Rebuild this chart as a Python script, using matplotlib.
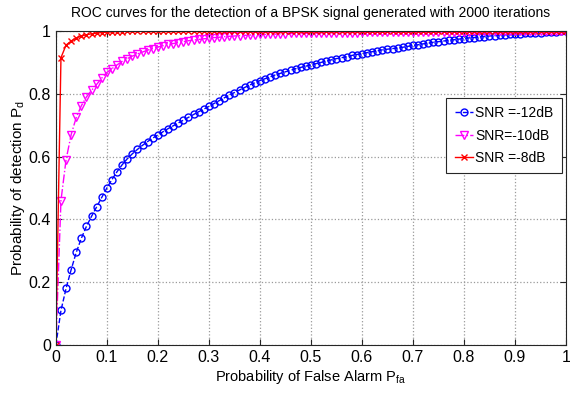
import numpy as np
import matplotlib
matplotlib.use("Agg")
import matplotlib.pyplot as plt

plt.rcParams['font.family'] = ['Liberation Sans', 'DejaVu Sans']

# false alarm probability grid (0 .. 1, step 0.01)
pfa = np.linspace(0, 1, 101)

# detection probability
pd_m12 = [
    0.000, 0.110, 0.180, 0.240, 0.295, 0.340, 0.378, 0.410, 0.440, 0.470,
    0.500, 0.527, 0.552, 0.574, 0.593, 0.609, 0.623, 0.636, 0.648, 0.659,
    0.669, 0.679, 0.689, 0.698, 0.707, 0.716, 0.725, 0.734, 0.743, 0.751,
    0.760, 0.769, 0.778, 0.787, 0.796, 0.804, 0.812, 0.820, 0.828, 0.835,
    0.842, 0.848, 0.854, 0.860, 0.865, 0.870, 0.875, 0.880, 0.884, 0.888,
    0.892, 0.896, 0.900, 0.904, 0.908, 0.912, 0.915, 0.918, 0.922, 0.925,
    0.928, 0.931, 0.934, 0.937, 0.940, 0.942, 0.944, 0.946, 0.948, 0.951,
    0.954, 0.956, 0.959, 0.961, 0.964, 0.966, 0.968, 0.970, 0.972, 0.974,
    0.976, 0.978, 0.979, 0.981, 0.982, 0.984, 0.985, 0.986, 0.988, 0.989,
    0.990, 0.991, 0.992, 0.993, 0.994, 0.995, 0.996, 0.997, 0.998, 0.999,
    1.000,
]

pd_m10 = [
    0.000, 0.460, 0.590, 0.670, 0.725, 0.762, 0.790, 0.811, 0.830, 0.850,
    0.868, 0.880, 0.892, 0.903, 0.912, 0.920, 0.927, 0.933, 0.939, 0.944,
    0.949, 0.953, 0.957, 0.960, 0.963, 0.966, 0.969, 0.971, 0.973, 0.975,
    0.977, 0.979, 0.980, 0.982, 0.983, 0.984, 0.985, 0.986, 0.987, 0.988,
    0.989, 0.989, 0.990, 0.990, 0.991, 0.991, 0.992, 0.992, 0.992, 0.993,
    0.993, 0.993, 0.994, 0.994, 0.994, 0.995, 0.995, 0.995, 0.995, 0.995,
    0.996, 0.996, 0.996, 0.996, 0.996, 0.997, 0.997, 0.997, 0.997, 0.997,
    0.997, 0.997, 0.997, 0.998, 0.998, 0.998, 0.998, 0.998, 0.998, 0.998,
    0.998, 0.998, 0.999, 0.999, 0.999, 0.999, 0.999, 0.999, 0.999, 0.999,
    0.999, 0.999, 0.999, 1.000, 1.000, 1.000, 1.000, 1.000, 1.000, 1.000,
    1.000,
]

pd_m8 = [
    0.000, 0.915, 0.955, 0.968, 0.978, 0.984, 0.988, 0.991, 0.993, 0.995,
    0.996, 0.997, 0.998, 0.998, 0.999, 0.999, 1.000, 1.000, 1.000, 1.000,
    1.000, 1.000, 1.000, 1.000, 1.000, 1.000, 1.000, 1.000, 1.000, 1.000,
    1.000, 1.000, 1.000, 1.000, 1.000, 1.000, 1.000, 1.000, 1.000, 1.000,
    1.000, 1.000, 1.000, 1.000, 1.000, 1.000, 1.000, 1.000, 1.000, 1.000,
    1.000, 1.000, 1.000, 1.000, 1.000, 1.000, 1.000, 1.000, 1.000, 1.000,
    1.000, 1.000, 1.000, 1.000, 1.000, 1.000, 1.000, 1.000, 1.000, 1.000,
    1.000, 1.000, 1.000, 1.000, 1.000, 1.000, 1.000, 1.000, 1.000, 1.000,
    1.000, 1.000, 1.000, 1.000, 1.000, 1.000, 1.000, 1.000, 1.000, 1.000,
    1.000, 1.000, 1.000, 1.000, 1.000, 1.000, 1.000, 1.000, 1.000, 1.000,
    1.000,
]

labels = ['SNR =-12dB', 'SNR=-10dB', 'SNR =-8dB']
xticks = [0, 0.1, 0.2, 0.3, 0.4, 0.5, 0.6, 0.7, 0.8, 0.9, 1]
yticks = [0, 0.2, 0.4, 0.6, 0.8, 1]

fig = plt.figure(figsize=(5.7, 3.97), dpi=100)
ax = fig.add_axes([0.098, 0.131, 0.895, 0.791])

ax.plot(pfa, pd_m12, '--o', color='blue', lw=1, ms=5, mfc='none', mew=1,
        label=labels[0])
ax.plot(pfa, pd_m10, '-.v', color='magenta', lw=1, ms=6, mfc='none', mew=1,
        label=labels[1])
ax.plot(pfa, pd_m8, '-x', color='red', lw=1, ms=5, mew=1,
        label=labels[2])

ax.set_xlim(0, 1)
ax.set_ylim(0, 1)
ax.set_xticks(xticks)
ax.set_yticks(yticks)
ax.set_xticklabels([f'{t:g}' for t in xticks])
ax.set_yticklabels([f'{t:g}' for t in yticks])
ax.tick_params(direction='in', labelsize=11.5, top=True, right=True,
               length=4, width=0.8, colors='#262626')
ax.tick_params(labelcolor='black')
ax.grid(True, linestyle=':', color='#9a9a9a', linewidth=0.9)
for s in ax.spines.values():
    s.set_color('#262626')
    s.set_linewidth(0.8)

ax.set_title('ROC curves for the detection of a BPSK signal generated with 2000 iterations',
             fontsize=10, pad=10)
ax.set_xlabel('Probability of False Alarm P$_{\\mathregular{fa}}$', fontsize=10.5, labelpad=2)
ax.set_ylabel('Probability of detection P$_{\\mathregular{d}}$', fontsize=11, labelpad=1)

leg = ax.legend(loc='upper right', bbox_to_anchor=(0.992, 0.787), fontsize=10,
                fancybox=False, framealpha=1, edgecolor='#262626',
                handlelength=1.3, handletextpad=0.2, borderpad=0.6,
                labelspacing=0.6, borderaxespad=0)
leg.get_frame().set_linewidth(0.8)

fig.savefig('out.png', dpi=100)
